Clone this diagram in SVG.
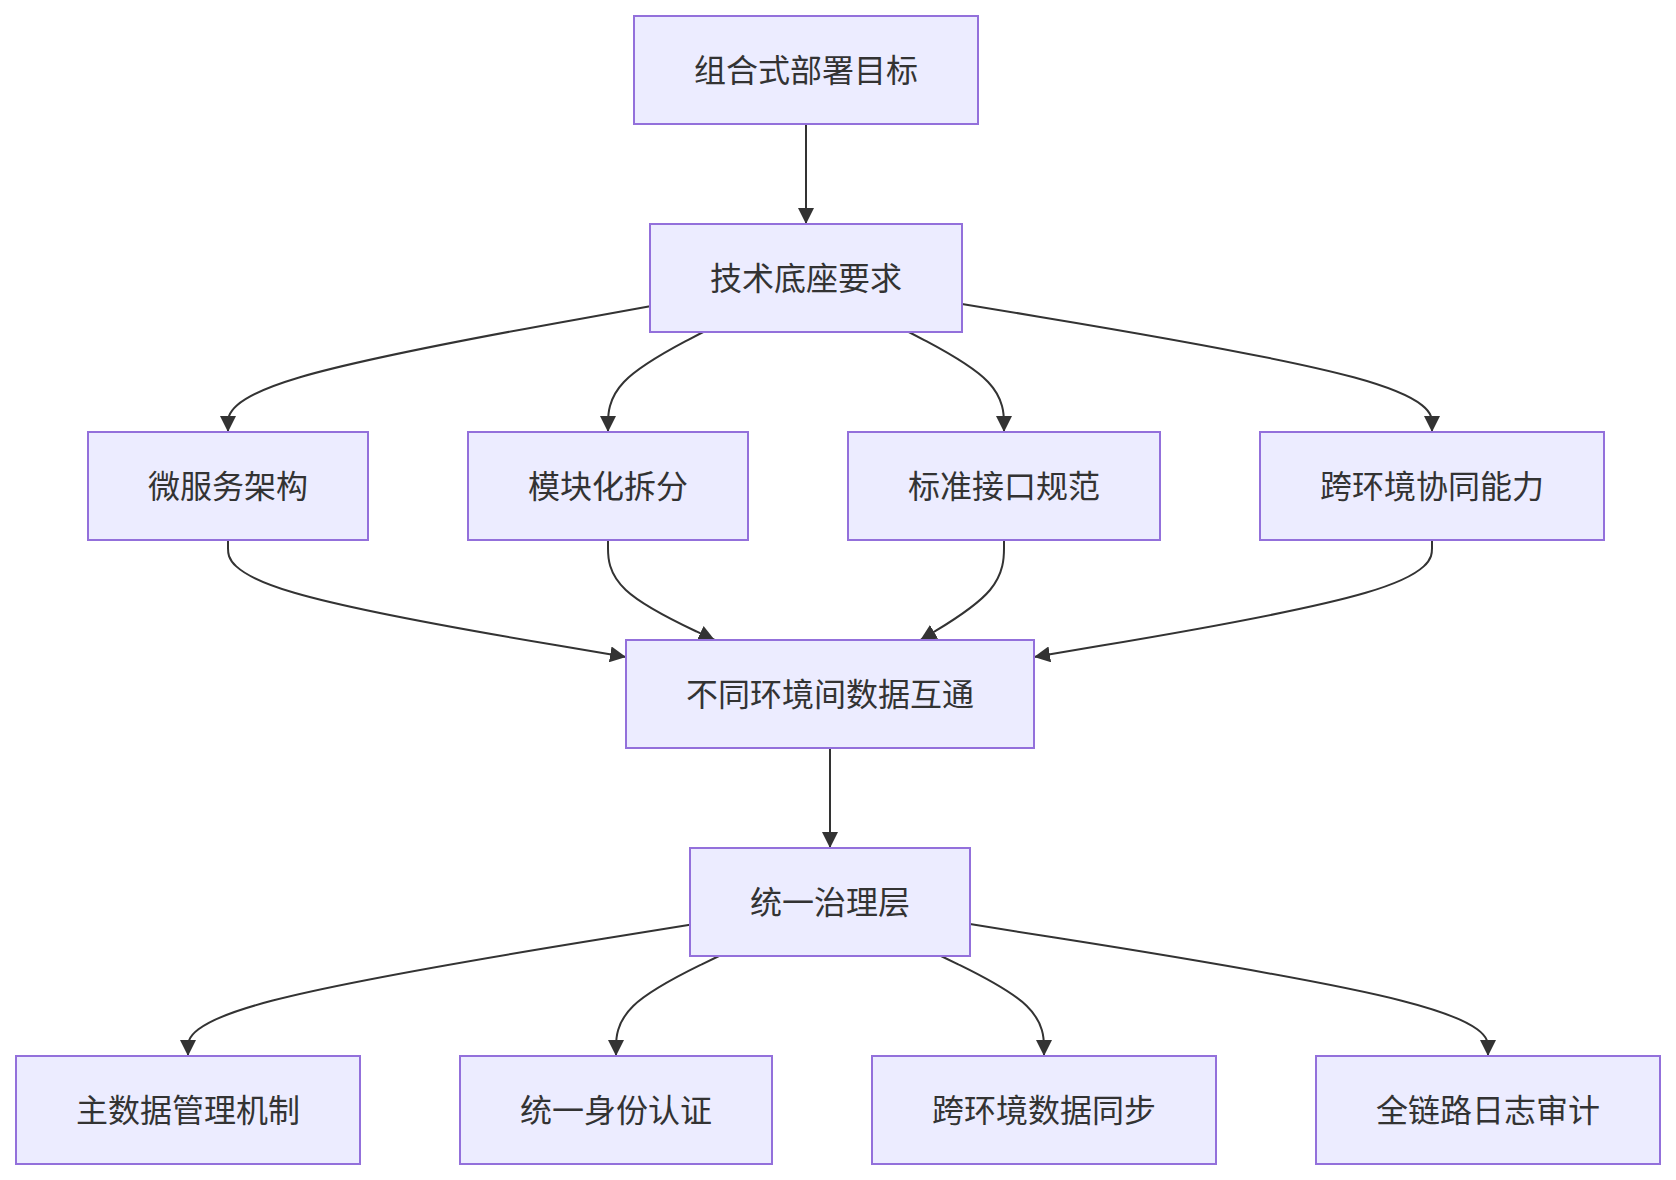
<svg xmlns="http://www.w3.org/2000/svg" width="1676" height="1180" viewBox="0 0 1676 1180">
<style>
.node rect{fill:#ECECFF;stroke:#9370DB;stroke-width:2}
.node text{font-family:"Noto Sans CJK SC","Noto Sans",sans-serif;font-size:32px;fill:#333333;text-anchor:middle;dominant-baseline:central}
.edge{fill:none;stroke:#333333;stroke-width:2;marker-end:url(#arrow)}
</style>
<defs>
<marker id="arrow" viewBox="0 0 10 10" refX="10" refY="5" markerUnits="userSpaceOnUse" markerWidth="16" markerHeight="16" orient="auto">
<path d="M0,0 L10,5 L0,10 z" fill="#333333"/>
</marker>
</defs>
<rect width="1676" height="1180" fill="#ffffff"/>
<g id="connectors">
<path class="edge" d="M806,124 L806,224"/>
<path class="edge" d="M650,306.3 L579.7,318.9 C509.3,331.5 368.7,356.8 298.3,377.7 C228,398.7 228,415.3 228,423.7 L228,432"/>
<path class="edge" d="M703.2,332 L687.3,340.3 C671.5,348.7 639.7,365.3 623.9,382 C608,398.7 608,415.3 608,423.7 L608,432"/>
<path class="edge" d="M908.8,332 L924.7,340.3 C940.5,348.7 972.3,365.3 988.1,382 C1004,398.7 1004,415.3 1004,423.7 L1004,432"/>
<path class="edge" d="M962,303.9 L1040.3,316.9 C1118.7,329.9 1275.3,356 1353.7,377.3 C1432,398.7 1432,415.3 1432,423.7 L1432,432"/>
<path class="edge" d="M228,540 L228,548.3 C228,556.7 228,573.3 294.3,592.8 C360.7,612.3 493.3,634.7 559.7,645.8 L626,657"/>
<path class="edge" d="M608,540 L608,548.3 C608,556.7 608,573.3 625.8,590 C643.6,606.7 679.1,623.3 696.9,631.7 L714.7,640"/>
<path class="edge" d="M1004,540 L1004,548.3 C1004,556.7 1004,573.3 990,590 C976.1,606.7 948.2,623.3 934.3,631.7 L920.3,640"/>
<path class="edge" d="M1432,540 L1432,548.3 C1432,556.7 1432,573.3 1365.7,592.8 C1299.3,612.3 1166.7,634.7 1100.3,645.8 L1034,657"/>
<path class="edge" d="M830,748 L830,848"/>
<path class="edge" d="M690,924.7 L606.3,938.3 C522.7,951.8 355.3,978.9 271.7,1000.8 C188,1022.7 188,1039.3 188,1047.7 L188,1056"/>
<path class="edge" d="M719,956 L701.8,964.3 C684.7,972.7 650.3,989.3 633.2,1006 C616,1022.7 616,1039.3 616,1047.7 L616,1056"/>
<path class="edge" d="M941,956 L958.2,964.3 C975.3,972.7 1009.7,989.3 1026.8,1006 C1044,1022.7 1044,1039.3 1044,1047.7 L1044,1056"/>
<path class="edge" d="M970,924.1 L1056.3,937.8 C1142.7,951.4 1315.3,978.7 1401.7,1000.7 C1488,1022.7 1488,1039.3 1488,1047.7 L1488,1056"/>
</g>
<g id="node-A" class="node"><rect x="634" y="16" width="344" height="108"/><text x="806" y="68">组合式部署目标</text></g>
<g id="node-B" class="node"><rect x="650" y="224" width="312" height="108"/><text x="806" y="276">技术底座要求</text></g>
<g id="node-C1" class="node"><rect x="88" y="432" width="280" height="108"/><text x="228" y="484">微服务架构</text></g>
<g id="node-C2" class="node"><rect x="468" y="432" width="280" height="108"/><text x="608" y="484">模块化拆分</text></g>
<g id="node-C3" class="node"><rect x="848" y="432" width="312" height="108"/><text x="1004" y="484">标准接口规范</text></g>
<g id="node-C4" class="node"><rect x="1260" y="432" width="344" height="108"/><text x="1432" y="484">跨环境协同能力</text></g>
<g id="node-D" class="node"><rect x="626" y="640" width="408" height="108"/><text x="830" y="692">不同环境间数据互通</text></g>
<g id="node-E" class="node"><rect x="690" y="848" width="280" height="108"/><text x="830" y="900">统一治理层</text></g>
<g id="node-F1" class="node"><rect x="16" y="1056" width="344" height="108"/><text x="188" y="1108">主数据管理机制</text></g>
<g id="node-F2" class="node"><rect x="460" y="1056" width="312" height="108"/><text x="616" y="1108">统一身份认证</text></g>
<g id="node-F3" class="node"><rect x="872" y="1056" width="344" height="108"/><text x="1044" y="1108">跨环境数据同步</text></g>
<g id="node-F4" class="node"><rect x="1316" y="1056" width="344" height="108"/><text x="1488" y="1108">全链路日志审计</text></g>
</svg>
